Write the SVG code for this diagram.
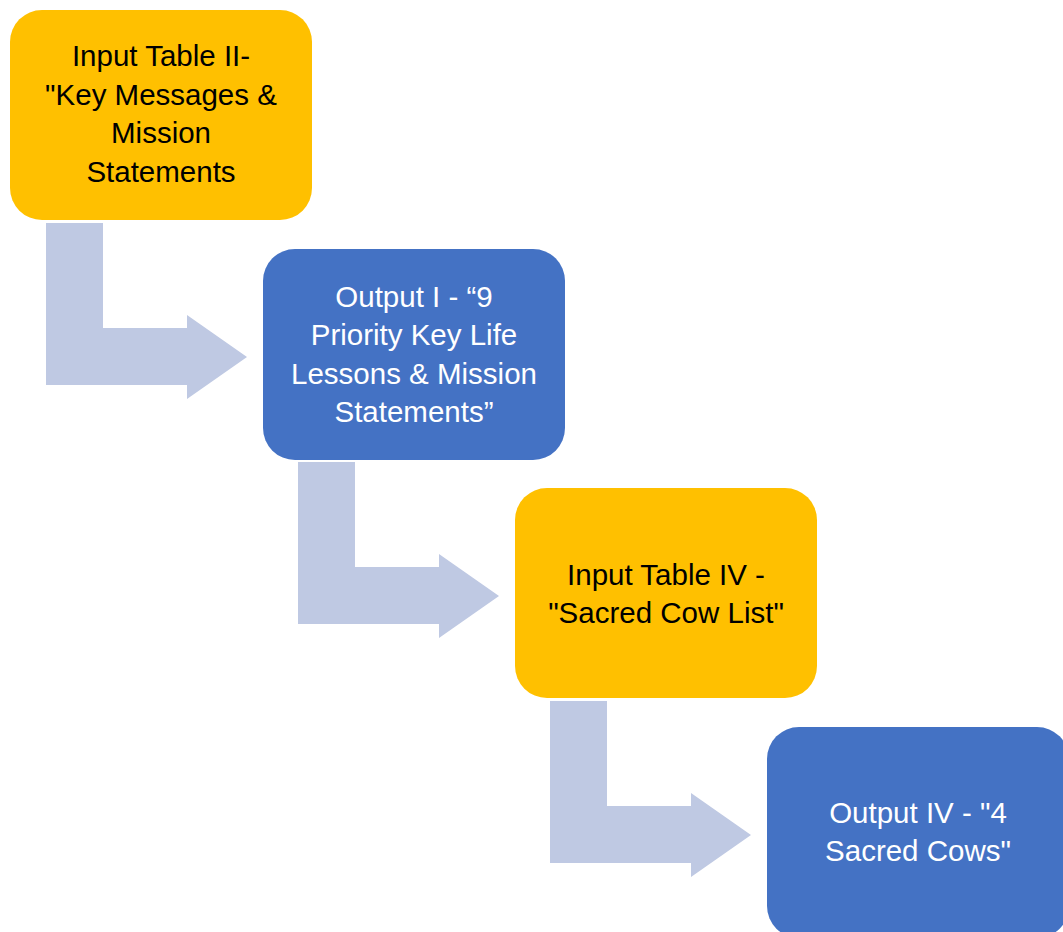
<svg xmlns="http://www.w3.org/2000/svg" width="1063" height="932" viewBox="0 0 1063 932">
  <style>
    .input { fill: #FFC000; }
    .output { fill: #4472C4; }
    .bend { fill: #BFC9E3; }
    text { font-family: "Liberation Sans", Arial, sans-serif; font-size: 29.5px; text-anchor: middle; }
    .dark { fill: #000000; }
    .light { fill: #FFFFFF; }
  </style>

  <!-- bent arrows linking each step to the next -->
  <g id="connectors">
    <polygon class="bend" points="46,223 103,223 103,328 187,328 187,315 247,357 187,399 187,385 46,385"/>
    <polygon class="bend" points="298,462 355,462 355,567 439,567 439,554 499,596 439,638 439,624 298,624"/>
    <polygon class="bend" points="550,701 607,701 607,806 691,806 691,793 751,835 691,877 691,863 550,863"/>
  </g>

  <g id="input-table-ii">
    <rect class="input" x="10" y="10" width="302" height="210" rx="32"/>
    <text class="dark" x="161" y="66">Input Table II-</text>
    <text class="dark" x="161" y="105">"Key Messages &amp;</text>
    <text class="dark" x="161" y="143">Mission</text>
    <text class="dark" x="161" y="182">Statements</text>
  </g>

  <g id="output-i">
    <rect class="output" x="263" y="249" width="302" height="211" rx="32"/>
    <text class="light" x="414" y="307">Output I - “9</text>
    <text class="light" x="414" y="345">Priority Key Life</text>
    <text class="light" x="414" y="384">Lessons &amp; Mission</text>
    <text class="light" x="414" y="422">Statements”</text>
  </g>

  <g id="input-table-iv">
    <rect class="input" x="515" y="488" width="302" height="210" rx="32"/>
    <text class="dark" x="666" y="585">Input Table IV -</text>
    <text class="dark" x="666" y="623">"Sacred Cow List"</text>
  </g>

  <g id="output-iv">
    <rect class="output" x="767" y="727" width="302" height="211" rx="32"/>
    <text class="light" x="918" y="823">Output IV - "4</text>
    <text class="light" x="918" y="861">Sacred Cows"</text>
  </g>
</svg>
